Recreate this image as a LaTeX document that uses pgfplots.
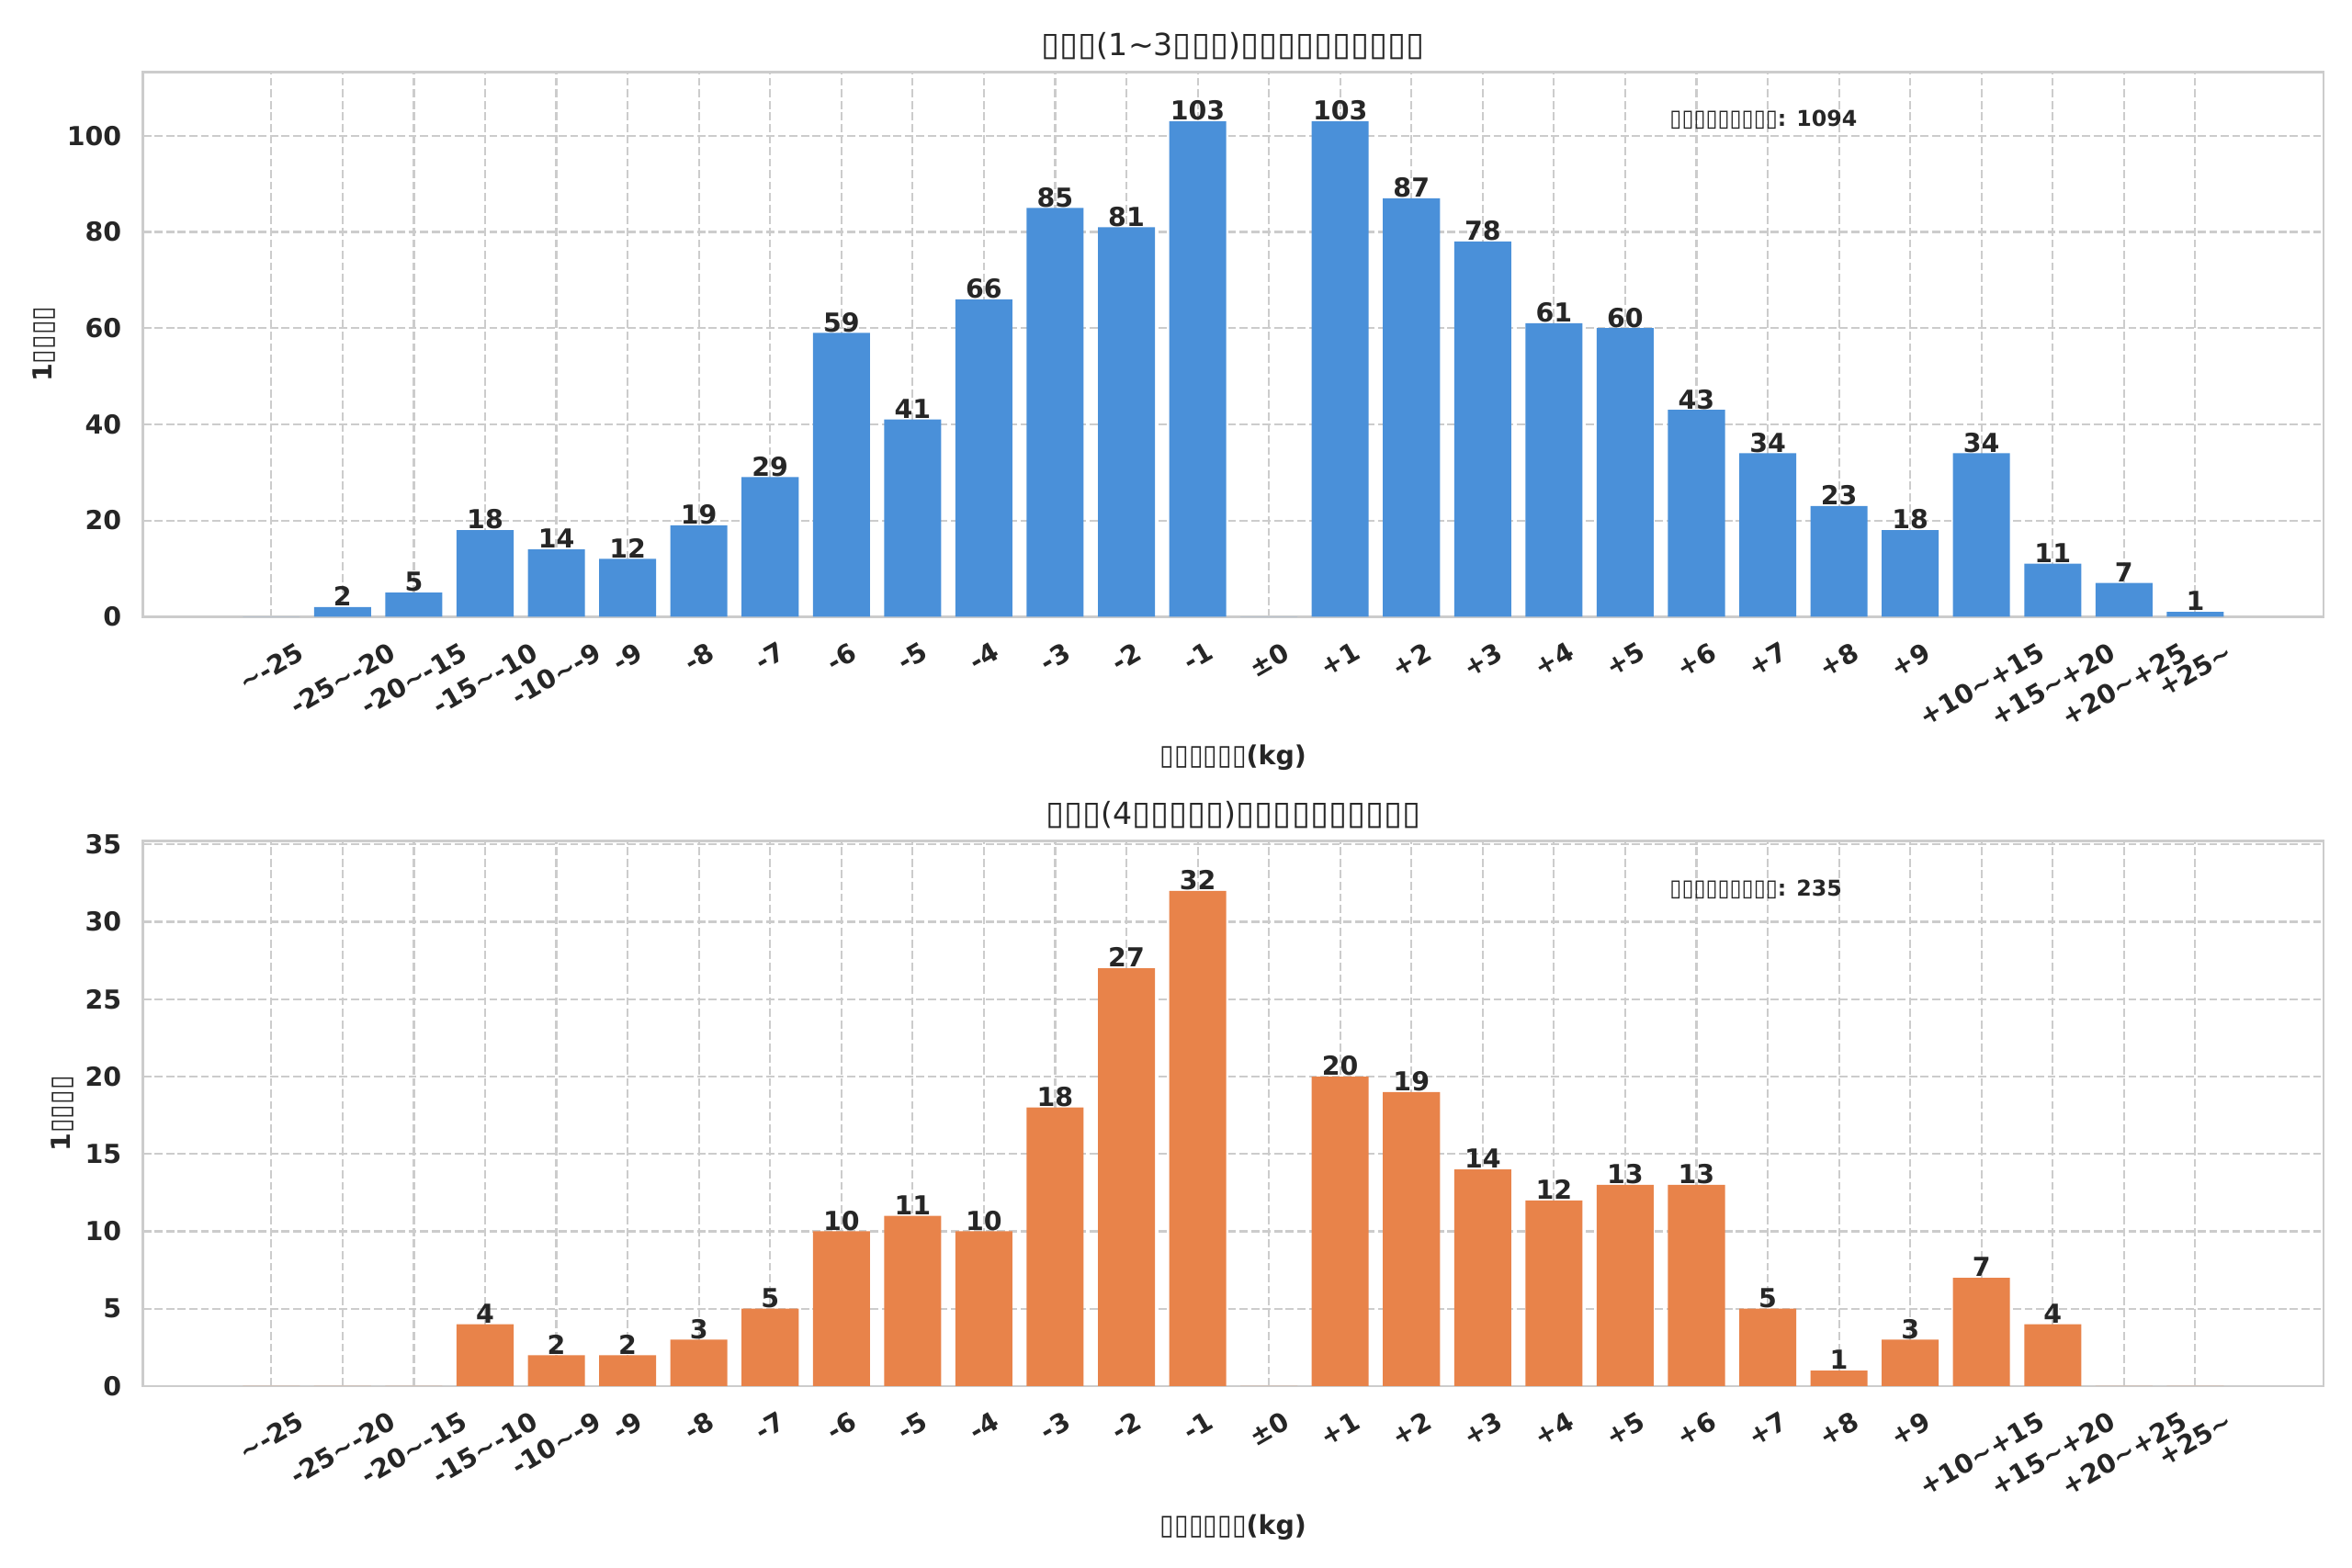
\documentclass[border=0pt]{standalone}
\usepackage{fontspec}
\setmainfont{DejaVu Sans}
\usepackage{graphicx}
\usepackage{pgfplots}
\usepackage{pgfplotstable}
\pgfplotsset{compat=1.18}
\definecolor{barblue}{HTML}{4A90D9}
\definecolor{barorange}{HTML}{E8834A}
\definecolor{txt}{HTML}{262626}
\definecolor{gridc}{HTML}{CCCCCC}
\newcommand\tl{\textasciitilde}
\newcommand\xl[1]{\rotatebox{30}{#1}}
% missing-glyph boxes as shown in the reference
\newcommand\tf{\scalebox{1.1}[1.08]{▯}}
\newcommand\tb{\scalebox{1}[1.08]{▯}}

\pgfplotstableread{
x y
0 0
1 2
2 5
3 18
4 14
5 12
6 19
7 29
8 59
9 41
10 66
11 85
12 81
13 103
14 0
15 103
16 87
17 78
18 61
19 60
20 43
21 34
22 23
23 18
24 34
25 11
26 7
27 1
}\shortdata

\pgfplotstableread{
x y
0 0
1 0
2 0
3 4
4 2
5 2
6 3
7 5
8 10
9 11
10 10
11 18
12 27
13 32
14 0
15 20
16 19
17 14
18 12
19 13
20 13
21 5
22 1
23 3
24 7
25 4
26 0
27 0
}\longdata

\pgfplotsset{
  every axis title shift=0pt,
  hist/.style={
    scale only axis, width=1001.2pt, height=250.2pt,
    xmin=-1.8, xmax=28.8, ymin=0,
    xtick={0,...,27},
    xticklabels={\xl{\tl-25},\xl{-25\tl-20},\xl{-20\tl-15},\xl{-15\tl-10},\xl{-10\tl-9},
      \xl{-9},\xl{-8},\xl{-7},\xl{-6},\xl{-5},\xl{-4},\xl{-3},\xl{-2},\xl{-1},\xl{±0},
      \xl{+1},\xl{+2},\xl{+3},\xl{+4},\xl{+5},\xl{+6},\xl{+7},\xl{+8},\xl{+9},
      \xl{+10\tl+15},\xl{+15\tl+20},\xl{+20\tl+25},\xl{+25\tl}},
    major tick length=0pt,
    tick style={draw=none},
    grid=major,
    major grid style={draw=gridc, dash pattern=on 3.7pt off 1.6pt, line width=0.9pt},
    axis line style={draw=gridc, line width=1.25pt},
    /pgf/number format/assume math mode=true,
    tick label style={font=\bfseries\fontsize{12}{14}\selectfont, text=txt},
    yticklabel style={anchor=east, inner sep=0pt, xshift=-9.7pt},
    xticklabel style={anchor=north, inner sep=0pt, yshift=-11.1pt},
    ybar, bar width=0.8,
    nodes near coords={\pgfmathfloatifflags{\pgfplotspointmeta}{0}{}{\pgfmathprintnumber{\pgfplotspointmeta}}},
    every node near coord/.append style={anchor=base, inner sep=0pt, yshift=0.5pt,
      font=\bfseries\fontsize{12}{14}\selectfont, text=txt},
    xlabel={\tb\tb\tb\tb\tb\tb(kg)},
    xlabel style={at={(rel axis cs:0.5,0)}, anchor=base, yshift=-68.2pt,
      font=\bfseries\fontsize{12}{14}\selectfont, text=txt, inner sep=0pt},
    ylabel={1\tb\tb\tb\tb},
    ylabel style={at={(ticklabel cs:0.5)}, anchor=base, yshift=7pt, inner sep=0pt,
      font=\bfseries\fontsize{12}{14}\selectfont, text=txt},
    title style={at={(rel axis cs:0.5,1)}, anchor=base, yshift=7.6pt,
      font=\fontsize{14}{17}\selectfont, text=txt, inner sep=0pt},
  }
}

\begin{document}
\begin{tikzpicture}
\begin{axis}[hist, at={(0pt,0pt)}, anchor=south west,
  ymax=113.3, ytick={0,20,40,60,80,100},
  title={\tf\tf\tf(1\tl3\tf\tf\tf)\tf\tf\tf\tf\tf\tf\tf\tf\tf\tf}]
\addplot[fill=barblue, draw=none] table[x=x,y=y] {\shortdata};
\node[anchor=base west, inner sep=0pt, font=\bfseries\fontsize{10}{12}\selectfont, text=txt]
  at (rel axis cs:0.7,0.9) {\tb\tb\tb\tb\tb\tb\tb\tb\tb: 1094};
\end{axis}
\begin{axis}[hist, at={(0pt,-353.4pt)}, anchor=south west,
  ymax=35.2, ytick={0,5,10,15,20,25,30,35},
  title={\tf\tf\tf(4\tf\tf\tf\tf\tf)\tf\tf\tf\tf\tf\tf\tf\tf\tf\tf}]
\addplot[fill=barorange, draw=none] table[x=x,y=y] {\longdata};
\node[anchor=base west, inner sep=0pt, font=\bfseries\fontsize{10}{12}\selectfont, text=txt]
  at (rel axis cs:0.7,0.9) {\tb\tb\tb\tb\tb\tb\tb\tb\tb: 235};
\end{axis}
\pgfresetboundingbox
\path[use as bounding box] (-65.7pt,-436.9pt) rectangle (1014.3pt,283.2pt);
\end{tikzpicture}
\end{document}
